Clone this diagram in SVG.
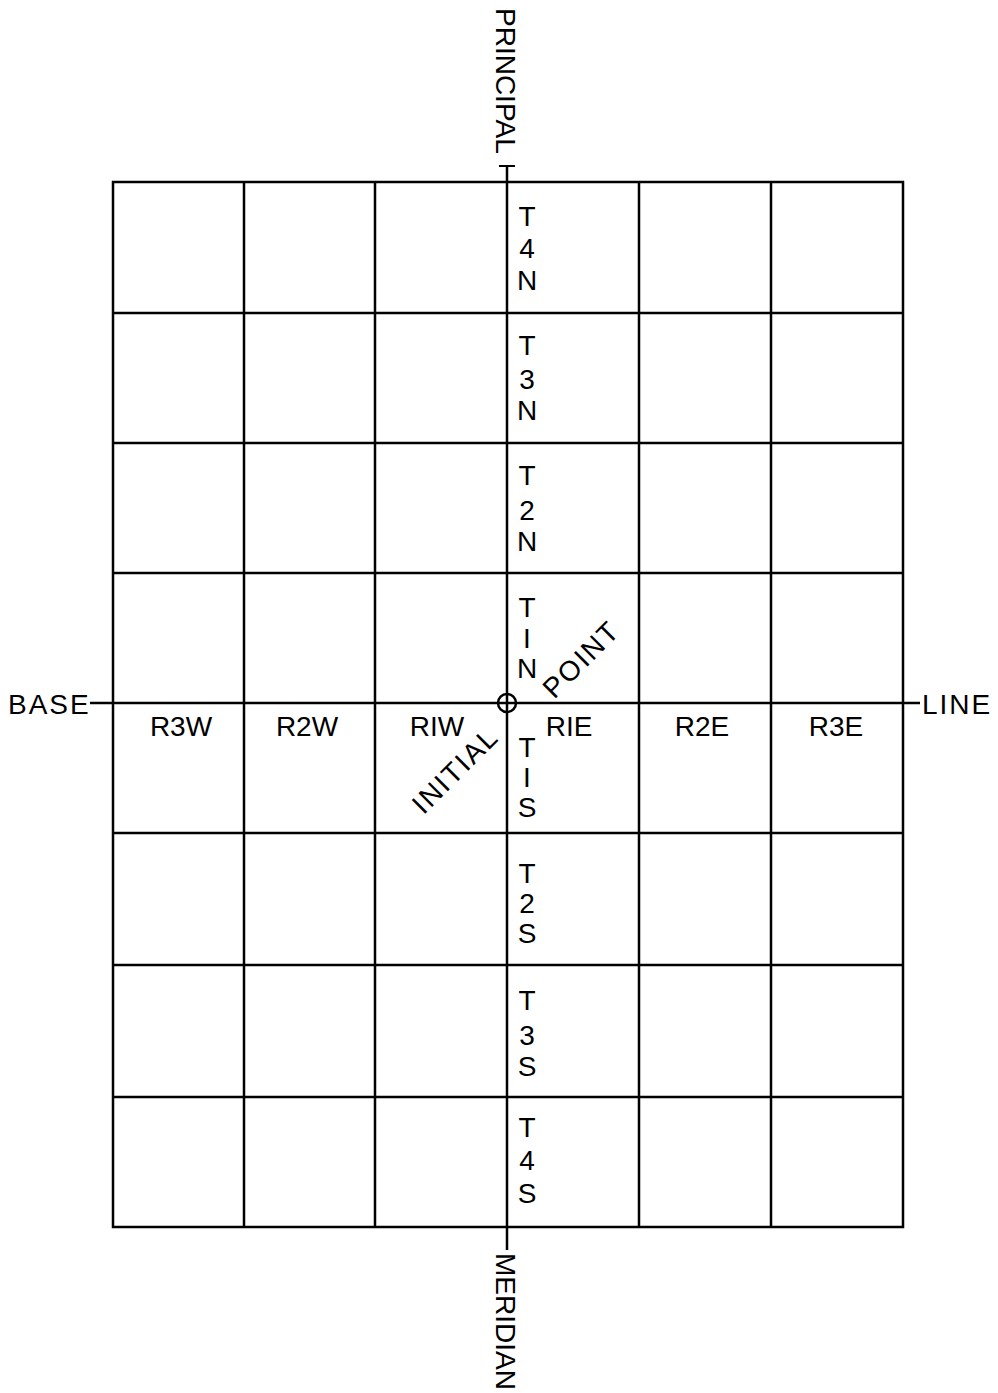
<svg xmlns="http://www.w3.org/2000/svg" width="998" height="1393" viewBox="0 0 998 1393">
<style>
.g{stroke:#000;stroke-width:2.5;fill:none}
text{font-family:"Liberation Sans",Arial,sans-serif;font-size:28px;fill:#000}
.c{text-anchor:middle}
.ls{letter-spacing:2px}
</style>
<rect width="998" height="1393" fill="#fff"/>
<g id="grid" class="g">
<rect x="113" y="182" width="790" height="1045"/>
<line x1="244" y1="182" x2="244" y2="1227"/>
<line x1="375" y1="182" x2="375" y2="1227"/>
<line x1="639" y1="182" x2="639" y2="1227"/>
<line x1="771" y1="182" x2="771" y2="1227"/>
<line x1="113" y1="313" x2="903" y2="313"/>
<line x1="113" y1="443" x2="903" y2="443"/>
<line x1="113" y1="573" x2="903" y2="573"/>
<line x1="113" y1="833" x2="903" y2="833"/>
<line x1="113" y1="965" x2="903" y2="965"/>
<line x1="113" y1="1097" x2="903" y2="1097"/>
</g>
<g id="connectors" class="g">
<line id="meridian" x1="507" y1="166" x2="507" y2="1250"/>
<line id="baseline" x1="90" y1="703" x2="920" y2="703"/>
<line x1="499" y1="166" x2="515" y2="166" stroke-width="2"/>
<circle id="initial-point" cx="507" cy="703" r="9"/>
</g>
<g id="axis-labels">
<text transform="translate(496,8) rotate(90)">PRINCIPAL</text>
<text transform="translate(496,1253) rotate(90)" font-size="27">MERIDIAN</text>
<text x="8" y="714" class="ls">BASE</text>
<text x="922" y="714" class="ls">LINE</text>
<text transform="translate(588,666) rotate(-45)" class="c ls">POINT</text>
<text transform="translate(462,777) rotate(-45)" class="c ls">INITIAL</text>
</g>
<g id="range-labels" class="c">
<text x="181" y="736">R3W</text>
<text x="307" y="736">R2W</text>
<text x="437" y="736">RIW</text>
<text x="569" y="736">RIE</text>
<text x="702" y="736">R2E</text>
<text x="836" y="736">R3E</text>
</g>
<g id="township-labels" class="c">
<text id="T4N"><tspan x="527" y="226">T</tspan><tspan x="527" y="258">4</tspan><tspan x="527" y="290">N</tspan></text>
<text id="T3N"><tspan x="527" y="355">T</tspan><tspan x="527" y="389">3</tspan><tspan x="527" y="420">N</tspan></text>
<text id="T2N"><tspan x="527" y="485">T</tspan><tspan x="527" y="520">2</tspan><tspan x="527" y="551">N</tspan></text>
<text id="T1N"><tspan x="527" y="617">T</tspan><tspan x="527" y="648">I</tspan><tspan x="527" y="678">N</tspan></text>
<text id="T1S"><tspan x="527" y="757">T</tspan><tspan x="527" y="787">I</tspan><tspan x="527" y="817">S</tspan></text>
<text id="T2S"><tspan x="527" y="883">T</tspan><tspan x="527" y="913">2</tspan><tspan x="527" y="943">S</tspan></text>
<text id="T3S"><tspan x="527" y="1010">T</tspan><tspan x="527" y="1045">3</tspan><tspan x="527" y="1076">S</tspan></text>
<text id="T4S"><tspan x="527" y="1137">T</tspan><tspan x="527" y="1170">4</tspan><tspan x="527" y="1203">S</tspan></text>
</g>
</svg>
